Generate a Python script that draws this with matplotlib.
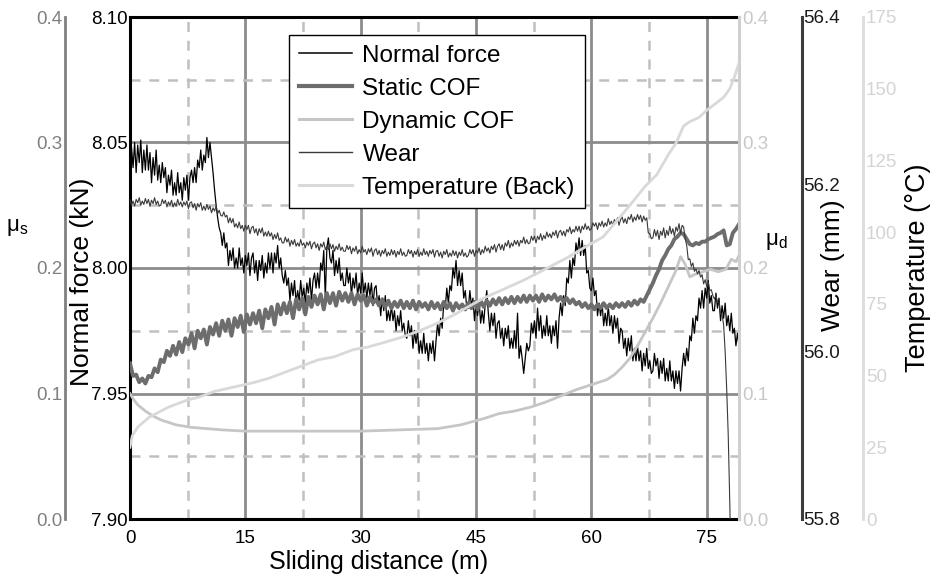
import numpy as np
import matplotlib
matplotlib.use('Agg')
import matplotlib.pyplot as plt

plt.rcParams['font.family'] = ['Liberation Sans', 'DejaVu Sans']

# distancia de deslizamiento (m): cada 0.2 m para fuerza y desgaste, cada 0.4 m para COF estatico
dist_fine = np.round(np.arange(0, 79.25, 0.2), 1)
dist = np.round(np.arange(0, 79.3, 0.4), 1)

normal_force = [
    8.033, 8.048, 8.040, 8.050, 8.038, 8.049, 8.042, 8.051, 8.038, 8.047, 8.039, 8.049, 8.039, 8.046, 8.034, 8.044, 8.037, 8.047, 8.035, 8.041,
    8.034, 8.042, 8.036, 8.040, 8.030, 8.037, 8.033, 8.039, 8.029, 8.034, 8.029, 8.038, 8.030, 8.034, 8.027, 8.036, 8.031, 8.037, 8.027, 8.036,
    8.039, 8.034, 8.040, 8.034, 8.043, 8.040, 8.047, 8.039, 8.045, 8.042, 8.052, 8.044, 8.050, 8.044, 8.038, 8.031, 8.025, 8.020, 8.016, 8.014,
    8.009, 8.014, 8.008, 8.010, 8.001, 8.007, 8.003, 8.008, 8.000, 8.004, 8.000, 8.008, 8.001, 8.004, 7.998, 8.005, 8.001, 8.006, 7.997, 8.004,
    8.006, 7.998, 8.003, 7.995, 8.003, 7.999, 8.005, 7.996, 8.002, 7.998, 8.006, 8.000, 8.006, 7.998, 8.006, 8.002, 8.009, 8.000, 8.004, 7.997,
    7.994, 7.999, 7.993, 7.996, 7.987, 7.994, 7.989, 7.995, 7.986, 7.991, 7.987, 7.995, 7.988, 7.992, 7.986, 7.994, 7.990, 7.996, 7.987, 7.995,
    7.998, 7.992, 7.998, 7.992, 8.002, 7.999, 8.007, 7.988, 8.008, 8.012, 8.004, 8.002, 8.007, 7.997, 8.003, 7.998, 8.004, 7.995, 7.998, 7.993,
    7.993, 8.000, 7.994, 7.998, 7.989, 7.996, 7.992, 7.998, 7.989, 7.994, 7.990, 7.998, 7.990, 7.994, 7.988, 7.994, 7.989, 7.994, 7.985, 7.992,
    7.993, 7.985, 7.989, 7.981, 7.988, 7.983, 7.989, 7.979, 7.983, 7.979, 7.985, 7.979, 7.983, 7.975, 7.981, 7.977, 7.983, 7.975, 7.978, 7.973,
    7.972, 7.979, 7.973, 7.977, 7.968, 7.975, 7.970, 7.975, 7.966, 7.971, 7.966, 7.974, 7.966, 7.970, 7.963, 7.970, 7.966, 7.971, 7.963, 7.971,
    7.978, 7.973, 7.980, 7.976, 7.986, 7.984, 7.992, 7.986, 7.993, 7.991, 8.000, 7.996, 8.003, 7.993, 7.999, 7.993, 7.998, 7.988, 7.991, 7.984,
    7.984, 7.991, 7.985, 7.988, 7.979, 7.986, 7.981, 7.987, 7.978, 7.983, 7.978, 7.986, 7.991, 7.982, 7.975, 7.982, 7.977, 7.982, 7.972, 7.978,
    7.979, 7.972, 7.976, 7.969, 7.976, 7.972, 7.977, 7.968, 7.972, 7.968, 7.975, 7.968, 7.982, 7.964, 7.969, 7.964, 7.958, 7.964, 7.970, 7.967,
    7.969, 7.978, 7.974, 7.979, 7.972, 7.984, 7.975, 7.981, 7.972, 7.977, 7.973, 7.981, 7.973, 7.977, 7.970, 7.977, 7.973, 7.979, 7.968, 7.980,
    7.986, 7.981, 7.989, 7.985, 7.996, 7.994, 8.003, 7.996, 8.004, 8.001, 8.010, 8.006, 8.012, 8.005, 8.011, 8.005, 8.009, 7.998, 7.999, 7.992,
    7.991, 7.996, 7.989, 7.991, 7.981, 7.986, 7.981, 7.986, 7.977, 7.982, 7.977, 7.985, 7.977, 7.981, 7.974, 7.981, 7.976, 7.980, 7.970, 7.976,
    7.975, 7.968, 7.972, 7.965, 7.972, 7.967, 7.973, 7.963, 7.968, 7.963, 7.969, 7.963, 7.967, 7.959, 7.966, 7.961, 7.968, 7.960, 7.963, 7.958,
    7.959, 7.966, 7.961, 7.964, 7.956, 7.963, 7.958, 7.964, 7.955, 7.960, 7.955, 7.963, 7.955, 7.959, 7.952, 7.959, 7.954, 7.959, 7.951, 7.960,
    7.966, 7.961, 7.968, 7.963, 7.973, 7.971, 7.980, 7.974, 7.981, 7.979, 7.988, 7.984, 7.991, 7.984, 7.992, 7.988, 7.995, 7.986, 7.989, 7.983,
    7.983, 7.990, 7.984, 7.988, 7.979, 7.985, 7.980, 7.986, 7.977, 7.981, 7.975, 7.982, 7.974, 7.976, 7.969, 7.974, 7.969,
]

wear = [
    56.182, 56.175, 56.180, 56.174, 56.182, 56.178, 56.184, 56.175, 56.180, 56.176, 56.183, 56.177, 56.182, 56.174, 56.181, 56.177, 56.184, 56.176, 56.180, 56.174,
    56.175, 56.182, 56.177, 56.181, 56.173, 56.179, 56.175, 56.181, 56.173, 56.178, 56.174, 56.182, 56.175, 56.179, 56.173, 56.179, 56.175, 56.180, 56.171, 56.178,
    56.179, 56.172, 56.177, 56.169, 56.177, 56.173, 56.178, 56.169, 56.174, 56.169, 56.176, 56.170, 56.174, 56.166, 56.172, 56.168, 56.174, 56.165, 56.169, 56.163,
    56.162, 56.167, 56.161, 56.163, 56.154, 56.160, 56.154, 56.159, 56.149, 56.153, 56.148, 56.155, 56.147, 56.151, 56.144, 56.151, 56.146, 56.151, 56.141, 56.148,
    56.150, 56.142, 56.147, 56.139, 56.147, 56.142, 56.148, 56.138, 56.143, 56.138, 56.144, 56.138, 56.142, 56.134, 56.140, 56.135, 56.142, 56.133, 56.136, 56.130,
    56.130, 56.137, 56.131, 56.135, 56.126, 56.133, 56.128, 56.134, 56.126, 56.130, 56.126, 56.134, 56.127, 56.130, 56.124, 56.131, 56.127, 56.132, 56.123, 56.129,
    56.131, 56.124, 56.129, 56.121, 56.129, 56.125, 56.131, 56.122, 56.126, 56.122, 56.129, 56.123, 56.128, 56.120, 56.126, 56.122, 56.129, 56.121, 56.125, 56.120,
    56.120, 56.127, 56.122, 56.126, 56.117, 56.124, 56.120, 56.126, 56.117, 56.122, 56.118, 56.126, 56.119, 56.122, 56.116, 56.123, 56.119, 56.124, 56.114, 56.121,
    56.123, 56.116, 56.121, 56.114, 56.121, 56.117, 56.123, 56.114, 56.119, 56.115, 56.122, 56.116, 56.121, 56.113, 56.120, 56.116, 56.123, 56.115, 56.119, 56.114,
    56.115, 56.122, 56.117, 56.121, 56.113, 56.120, 56.116, 56.122, 56.114, 56.119, 56.115, 56.123, 56.116, 56.120, 56.114, 56.121, 56.117, 56.122, 56.113, 56.120,
    56.121, 56.114, 56.119, 56.112, 56.120, 56.116, 56.122, 56.113, 56.118, 56.114, 56.121, 56.115, 56.120, 56.112, 56.119, 56.115, 56.122, 56.114, 56.118, 56.113,
    56.115, 56.122, 56.117, 56.122, 56.114, 56.121, 56.118, 56.124, 56.116, 56.122, 56.118, 56.126, 56.120, 56.124, 56.118, 56.126, 56.122, 56.128, 56.119, 56.126,
    56.129, 56.122, 56.128, 56.121, 56.130, 56.126, 56.133, 56.124, 56.130, 56.126, 56.133, 56.128, 56.133, 56.126, 56.133, 56.130, 56.137, 56.129, 56.134, 56.129,
    56.130, 56.138, 56.133, 56.138, 56.130, 56.138, 56.134, 56.141, 56.133, 56.139, 56.135, 56.143, 56.137, 56.141, 56.136, 56.143, 56.139, 56.145, 56.136, 56.143,
    56.145, 56.139, 56.144, 56.138, 56.146, 56.143, 56.149, 56.141, 56.146, 56.143, 56.150, 56.144, 56.150, 56.142, 56.150, 56.146, 56.153, 56.146, 56.150, 56.145,
    56.147, 56.154, 56.150, 56.154, 56.146, 56.154, 56.150, 56.156, 56.149, 56.154, 56.150, 56.159, 56.152, 56.156, 56.151, 56.158, 56.154, 56.160, 56.151, 56.158,
    56.161, 56.154, 56.159, 56.153, 56.161, 56.158, 56.164, 56.155, 56.161, 56.157, 56.164, 56.158, 56.163, 56.155, 56.162, 56.157, 56.160, 56.142, 56.141, 56.135,
    56.136, 56.146, 56.138, 56.145, 56.134, 56.144, 56.139, 56.148, 56.136, 56.145, 56.139, 56.150, 56.141, 56.147, 56.138, 56.149, 56.144, 56.153, 56.141, 56.151,
    56.149, 56.135, 56.127, 56.110, 56.111, 56.102, 56.106, 56.096, 56.099, 56.093, 56.097, 56.089, 56.092, 56.081, 56.086, 56.078, 56.083, 56.073, 56.074, 56.067,
    56.063, 56.067, 56.059, 56.059, 56.045, 56.044, 56.032, 56.000, 55.955, 55.900, 55.820, 55.720, np.nan, np.nan, np.nan, np.nan, np.nan,
]

static_cof = [
    0.124, 0.114, 0.115, 0.109, 0.112, 0.108, 0.114, 0.113, 0.120, 0.117,
    0.127, 0.125, 0.134, 0.130, 0.138, 0.131, 0.141, 0.133, 0.144, 0.139,
    0.148, 0.136, 0.150, 0.144, 0.151, 0.139, 0.153, 0.147, 0.156, 0.146,
    0.158, 0.150, 0.159, 0.146, 0.160, 0.153, 0.162, 0.149, 0.163, 0.155,
    0.164, 0.156, 0.166, 0.152, 0.167, 0.160, 0.169, 0.155, 0.171, 0.163,
    0.172, 0.164, 0.173, 0.160, 0.175, 0.167, 0.176, 0.163, 0.177, 0.169,
    0.178, 0.171, 0.179, 0.167, 0.180, 0.172, 0.180, 0.170, 0.181, 0.174,
    0.180, 0.173, 0.180, 0.171, 0.179, 0.174, 0.178, 0.170, 0.177, 0.172,
    0.175, 0.170, 0.175, 0.169, 0.174, 0.168, 0.173, 0.169, 0.174, 0.168,
    0.173, 0.168, 0.174, 0.167, 0.173, 0.169, 0.172, 0.167, 0.173, 0.168,
    0.172, 0.167, 0.173, 0.168, 0.172, 0.166, 0.172, 0.168, 0.171, 0.167,
    0.172, 0.168, 0.173, 0.167, 0.174, 0.169, 0.174, 0.170, 0.175, 0.171,
    0.176, 0.171, 0.176, 0.172, 0.177, 0.172, 0.177, 0.173, 0.178, 0.173,
    0.178, 0.174, 0.178, 0.173, 0.179, 0.174, 0.178, 0.175, 0.179, 0.174,
    0.177, 0.173, 0.176, 0.172, 0.175, 0.171, 0.173, 0.169, 0.172, 0.168,
    0.171, 0.167, 0.171, 0.168, 0.172, 0.168, 0.171, 0.168, 0.172, 0.169,
    0.172, 0.169, 0.173, 0.170, 0.174, 0.171, 0.175, 0.173, 0.178, 0.183,
    0.188, 0.194, 0.199, 0.206, 0.210, 0.215, 0.218, 0.223, 0.225, 0.228,
    0.227, 0.223, 0.219, 0.218, 0.220, 0.219, 0.221, 0.221, 0.223, 0.224,
    0.225, 0.227, 0.228, 0.230, 0.218, 0.219, 0.228, 0.231, 0.235,
]

dyn_x = [0, 0.5, 1, 2, 3, 4, 5, 6, 8, 10, 12, 15, 20, 25, 30, 35, 40, 43, 46, 48,
         50, 52, 54, 56, 58, 60, 62, 63, 64, 65, 66, 67, 68, 69, 70, 71, 71.6, 72.2,
         72.8, 73.5, 74.5, 75.5, 76.5, 77.5, 78.2, 78.8, 79.2]
dynamic_cof = [0.100, 0.095, 0.091, 0.086, 0.082, 0.079, 0.077, 0.075, 0.073, 0.072,
               0.071, 0.070, 0.070, 0.070, 0.070, 0.071, 0.072, 0.075, 0.080, 0.084,
               0.086, 0.089, 0.093, 0.098, 0.103, 0.107, 0.111, 0.115, 0.121, 0.128,
               0.138, 0.149, 0.160, 0.172, 0.185, 0.198, 0.209, 0.203, 0.193, 0.195,
               0.197, 0.199, 0.197, 0.199, 0.207, 0.205, 0.210]

temp_x = [0, 0.3, 1, 2.5, 5, 7.5, 9, 11, 13.5, 16, 18, 20, 22, 24.5, 26.5, 29, 31, 33,
          35.5, 38, 40, 42, 44, 46, 48.5, 51, 53, 55, 57, 59, 61.5, 63.5, 65.5, 67,
          68.5, 70, 71, 72, 72.8, 74, 75, 76, 77.2, 78, 78.6, 79.2]
temperature = [25, 29, 32, 35.5, 39, 41.5, 42.5, 44.5, 46, 47.5, 49, 51, 53, 55.5, 56.5,
               59, 60, 61.5, 63.5, 66, 68.3, 71, 74, 77, 80, 83, 85.7, 88.5, 91.3, 94.5,
               98.3, 104.5, 111, 116, 120, 127, 131, 137, 138.5, 140, 142.5, 144.5, 147,
               150, 154, 159]

W, H = 937, 583
fig, ax = plt.subplots(figsize=(W / 100, H / 100), dpi=100)
fig.subplots_adjust(left=130 / W, right=739 / W, top=1 - 17 / H, bottom=1 - 519 / H)

ax_s = ax.twinx()
ax_d = ax.twinx()
ax_w = ax.twinx()
ax_t = ax.twinx()

# lineas
l_nf, = ax.plot(dist_fine, normal_force, color='black', lw=0.9)
l_s, = ax_s.plot(dist, static_cof, color='#6d6d6d', lw=2.8)
l_d, = ax_d.plot(dyn_x, dynamic_cof, color='#c6c6c6', lw=2.0)
l_w, = ax_w.plot(dist_fine, wear, color='#3a3a3a', lw=0.8)
l_t, = ax_t.plot(temp_x, temperature, color='#d9d9d9', lw=2.0)

ax.set_xlim(0, 79.2)
ax.set_ylim(7.90, 8.10)
ax_s.set_ylim(0, 0.4)
ax_d.set_ylim(0, 0.4)
ax_w.set_ylim(55.8, 56.4)
ax_t.set_ylim(0, 175)

# grilla
ax.set_xticks([0, 15, 30, 45, 60, 75])
ax.set_xticks([7.5, 22.5, 37.5, 52.5, 67.5], minor=True)
ax.set_yticks([7.90, 7.95, 8.00, 8.05, 8.10])
ax.set_yticks([7.925, 7.975, 8.025, 8.075], minor=True)
ax.set_yticklabels(['%.2f' % v for v in [7.90, 7.95, 8.00, 8.05, 8.10]])
ax.grid(which='major', color='#8c8c8c', lw=2, ls='-')
ax.grid(which='minor', color='#c0c0c0', lw=1.8, ls=(0, (4, 3.5)))
ax.set_axisbelow(True)
ax.tick_params(which='both', length=0)
ax.tick_params(axis='y', pad=1.5, labelsize=13.5)
ax.tick_params(axis='x', pad=8, labelsize=13.5)

for side in ['top', 'bottom', 'left']:
    ax.spines[side].set_color('black')
    ax.spines[side].set_linewidth(2.2)
ax.spines['right'].set_visible(False)

for a in [ax_s, ax_d, ax_w, ax_t]:
    for sp in a.spines.values():
        sp.set_visible(False)
    a.tick_params(which='both', length=0, labelsize=13.5)

# eje mu_s a la izquierda
ax_s.yaxis.tick_left()
ax_s.spines['left'].set_visible(True)
ax_s.spines['left'].set_position(('axes', -65 / 609))
ax_s.spines['left'].set_color('#808080')
ax_s.spines['left'].set_linewidth(2)
ax_s.set_yticks([0, 0.1, 0.2, 0.3, 0.4])
ax_s.set_yticklabels(['0.0', '0.1', '0.2', '0.3', '0.4'])
ax_s.tick_params(axis='y', colors='#808080', pad=2)

# eje mu_d a la derecha
ax_d.spines['right'].set_visible(True)
ax_d.spines['right'].set_color('#cfcfcf')
ax_d.spines['right'].set_linewidth(2.2)
ax_d.set_yticks([0, 0.1, 0.2, 0.3, 0.4])
ax_d.set_yticklabels(['0.0', '0.1', '0.2', '0.3', '0.4'])
ax_d.tick_params(axis='y', colors='#c8c8c8', pad=2)

# eje desgaste
ax_w.spines['right'].set_visible(True)
ax_w.spines['right'].set_position(('axes', (802 - 130) / 609))
ax_w.spines['right'].set_color('#3c3c3c')
ax_w.spines['right'].set_linewidth(2.2)
ax_w.set_yticks([55.8, 56.0, 56.2, 56.4])
ax_w.set_yticklabels(['55.8', '56.0', '56.2', '56.4'])
ax_w.tick_params(axis='y', colors='#1a1a1a', pad=1)

# eje temperatura
ax_t.spines['right'].set_visible(True)
ax_t.spines['right'].set_position(('axes', (863 - 130) / 609))
ax_t.spines['right'].set_color('#dcdcdc')
ax_t.spines['right'].set_linewidth(2)
ax_t.set_yticks([0, 25, 50, 75, 100, 125, 150, 175])
ax_t.tick_params(axis='y', colors='#d4d4d4', pad=2)

# rotulos
fig.text(379 / W, 1 - 562 / H, 'Sliding distance (m)', fontsize=18, ha='center', va='center')
fig.text(82 / W, 1 - 282 / H, 'Normal force (kN)', fontsize=19, rotation=90, ha='center', va='center')
fig.text(17 / W, 1 - 228 / H, r'μ$_\mathregular{s}$', fontsize=16, ha='center', va='center')
fig.text(776 / W, 1 - 242 / H, r'μ$_\mathregular{d}$', fontsize=16, ha='center', va='center')
fig.text(833 / W, 1 - 265 / H, 'Wear (mm)', fontsize=19, rotation=90, ha='center', va='center')
fig.text(918 / W, 1 - 268 / H, 'Temperature (°C)', fontsize=19.5, rotation=90, ha='center', va='center')

leg = ax_t.legend([l_nf, l_s, l_d, l_w, l_t],
                  ['Normal force', 'Static COF', 'Dynamic COF', 'Wear', 'Temperature (Back)'],
                  loc='upper left', bbox_to_anchor=((289 - 130) / 609, 1 - (35 - 17) / 502),
                  borderaxespad=0, fontsize=17.5, labelspacing=0.45, handlelength=2.2,
                  handletextpad=0.42, borderpad=0.4, fancybox=False, framealpha=1)
leg.get_frame().set_edgecolor('black')
leg.get_frame().set_linewidth(1)
for h in leg.get_lines():
    h.set_linewidth(h.get_linewidth() + 0.2)

fig.savefig('out.png', dpi=100)
